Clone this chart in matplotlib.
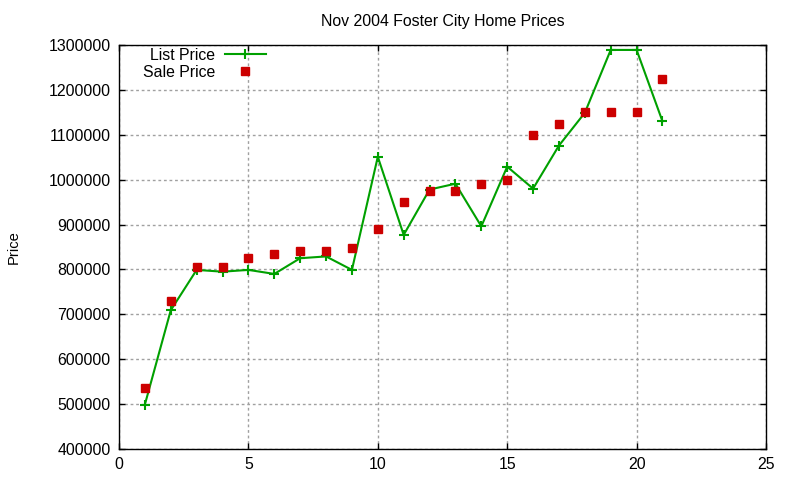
import matplotlib
matplotlib.use("Agg")
import matplotlib.pyplot as plt

# listing number (x) and prices
house = list(range(1, 22))
list_price = [499000, 709000, 799000, 795000, 799000, 790000, 825000, 829000,
              799000, 1051000, 877000, 978000, 991000, 896000, 1029000, 980000,
              1076000, 1149000, 1289000, 1289000, 1130000]
sale_price = [535000, 730000, 805000, 805000, 825000, 835000, 840000, 840000,
              848000, 890000, 951000, 975000, 975000, 991000, 1000000, 1100000,
              1125000, 1150000, 1151000, 1151000, 1225000]

x_ticks = [0, 5, 10, 15, 20, 25]
y_ticks = list(range(400000, 1300001, 100000))

plt.rcParams["font.family"] = ["Liberation Sans", "DejaVu Sans"]
plt.rcParams["font.size"] = 11.4

fig = plt.figure(figsize=(8, 4.8), dpi=100)
ax = fig.add_axes([119 / 800, 1 - 449 / 480, (766 - 119) / 800, (449 - 45) / 480])

ax.plot(house, list_price, color="#00a000", linewidth=1.5, marker="+",
        markersize=7, markeredgewidth=1.5, label="List Price")
ax.plot(house, sale_price, linestyle="none", color="#cc0000", marker="s",
        markersize=5.5, label="Sale Price")

ax.set_xlim(0, 25)
ax.set_ylim(400000, 1300000)
ax.set_xticks(x_ticks)
ax.set_yticks(y_ticks)
ax.set_yticklabels([str(v) for v in y_ticks])
ax.tick_params(direction="in", length=4, width=1, top=True, right=True, pad=6)
ax.grid(True, color="#a0a0a0", linestyle=(0, (2, 2)), linewidth=1)
for s in ax.spines.values():
    s.set_linewidth(1)

ax.set_title("Nov 2004 Foster City Home Prices", fontsize=11.4, pad=14)
ax.set_ylabel("Price", fontsize=10.6, labelpad=20)

ax.legend(loc="upper left", bbox_to_anchor=(0.02, 1.02), frameon=False,
          markerfirst=False, handlelength=2.6, handletextpad=0.6,
          labelspacing=0.1, borderaxespad=0.3)

fig.savefig("out.png", dpi=100)
plt.close(fig)
